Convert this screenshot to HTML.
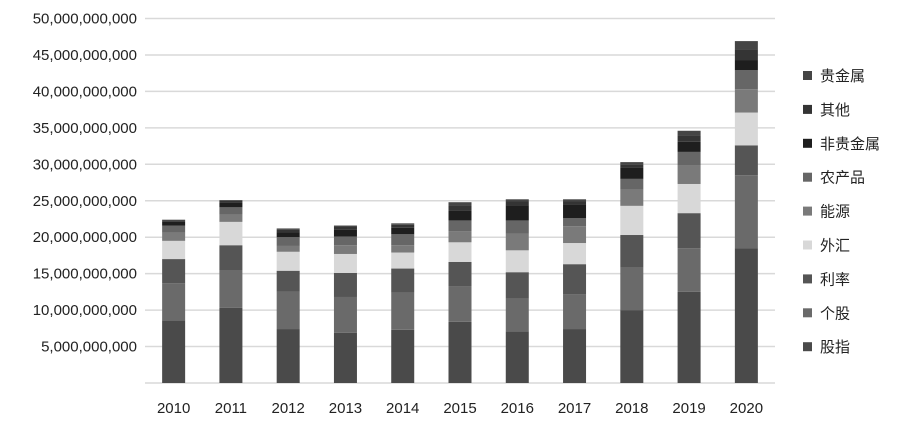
<!DOCTYPE html>
<html><head><meta charset="utf-8"><style>
body{margin:0;background:#fff;}
svg{display:block;font-family:"Liberation Sans","Noto Sans CJK SC",sans-serif;}
</style></head><body>
<svg id="chart" width="900" height="423" viewBox="0 0 900 423"></svg>
<script>
const years=["2010","2011","2012","2013","2014","2015","2016","2017","2018","2019","2020"];
const seriesNames=["股指","个股","利率","外汇","能源","农产品","非贵金属","其他","贵金属"];
const guzhi=[8.6,10.3,7.4,6.9,7.3,8.4,7.1,7.4,10.0,12.5,18.5];
const gegu=[5.1,5.2,5.1,4.9,5.1,4.9,4.5,4.8,5.8,6.0,10.0];
const lilv=[3.3,3.4,2.9,3.3,3.3,3.3,3.6,4.1,4.5,4.8,4.1];
const waihui=[2.5,3.2,2.6,2.6,2.2,2.7,3.0,2.9,4.0,4.0,4.5];
const nengyuan=[1.1,1.0,0.8,1.2,1.0,1.5,2.3,2.3,2.2,2.5,3.2];
const nongchanpin=[1.0,1.0,1.2,1.2,1.5,1.5,1.8,1.1,1.5,1.9,2.6];
const feiguijinshu=[0.5,0.7,0.7,0.9,0.9,1.4,2.1,1.9,1.5,1.4,1.4];
const qita=[0.2,0.2,0.3,0.4,0.4,0.7,0.5,0.4,0.5,0.9,1.5];
const guijinshu=[0.1,0.1,0.2,0.2,0.2,0.4,0.3,0.3,0.3,0.6,1.1];
const yTicks=[5,10,15,20,25,30,35,40,45,50];
const yTickLabels=["5,000,000,000","10,000,000,000","15,000,000,000","20,000,000,000","25,000,000,000","30,000,000,000","35,000,000,000","40,000,000,000","45,000,000,000","50,000,000,000"];
const series=[guzhi,gegu,lilv,waihui,nengyuan,nongchanpin,feiguijinshu,qita,guijinshu];
const colors=["#4a4a4a","#6a6a6a","#555555","#d8d8d8","#7a7a7a","#666666","#1e1e1e","#343434","#454545"];
const NS="http://www.w3.org/2000/svg";
const svg=document.getElementById('chart');
const L=145,R=775,Y0=383,Ytop=18.5,MAX=50;
const band=(R-L)/years.length;
const x=i=>L+band*(i+0.5);
const y=v=>Y0-(Y0-Ytop)*v/MAX;
function mk(t,a){const e=document.createElementNS(NS,t);for(const k in a)e.setAttribute(k,a[k]);svg.appendChild(e);return e;}
yTicks.forEach((v,i)=>{
  const g=mk('line',{x1:L,x2:R,y1:y(v),y2:y(v),stroke:'#d9d9d9','stroke-width':1.5});
  
  
  const t=mk('text',{x:137,y:y(v)+5,'text-anchor':'end','font-size':15,fill:'#222'});
  t.textContent=yTickLabels[i];
  
  
});
const base=mk('line',{x1:L,x2:R,y1:Y0,y2:Y0,stroke:'#d9d9d9','stroke-width':1.5});


years.forEach((yr,i)=>{
  let acc=0;
  series.forEach((s,k)=>{
    const r=mk('rect',{x:x(i)-11.5,y:y(acc+s[i]),width:23,height:y(acc)-y(acc+s[i]),fill:colors[k]});
    
    
    acc+=s[i];
  });
  const t=mk('text',{x:x(i),y:413,'text-anchor':'middle','font-size':15,fill:'#222'});
  t.textContent=yr;
  
  
});
for(let k=seriesNames.length-1;k>=0;k--){
  const j=seriesNames.length-1-k;
  const yy=76+j*33.9;
  const r=mk('rect',{x:803,y:yy-5,width:9,height:9,fill:colors[k]});
  
  
  const t=mk('text',{x:820,y:yy+5,'font-size':15,fill:'#222'});
  t.textContent=seriesNames[k];
  
  
}
</script>
</body></html>
